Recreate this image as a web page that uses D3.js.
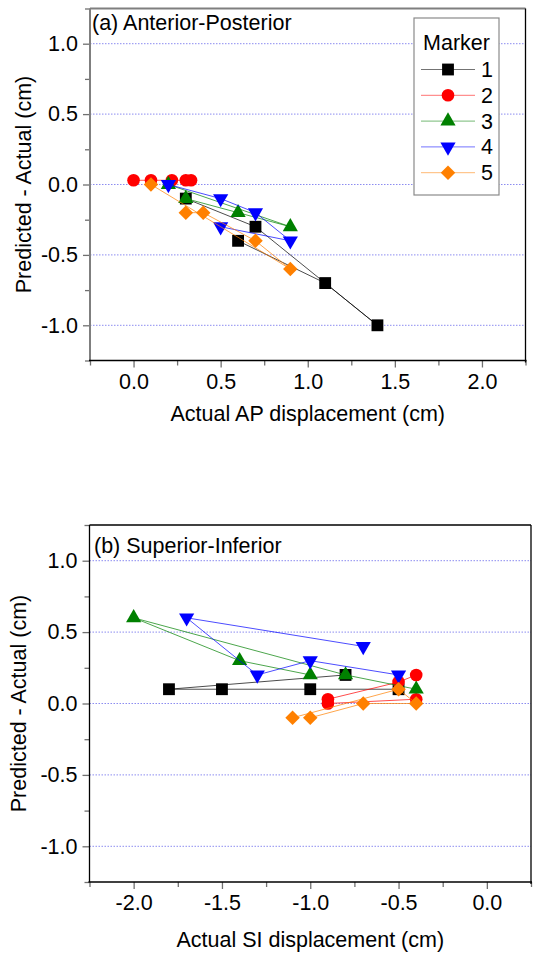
<!DOCTYPE html>
<html><head><meta charset="utf-8">
<script src="https://cdn.jsdelivr.net/npm/d3@7"></script>
<style>
body{margin:0;background:#fff;}
svg text{font-family:"Liberation Sans",Arial,sans-serif;}
</style></head>
<body><svg id="c" width="541" height="963"></svg>
<script>
// ---- data ----
const markerNames = ["1","2","3","4","5"];
const seriesColors = ["#000000","#ff0000","#008000","#0000ff","#ff8000"];
const yTicks = [-1.0,-0.5,0.0,0.5,1.0];
const yMinor = [-1.25,-0.75,-0.25,0.25,0.75,1.25];
const apTicks = [0.0,0.5,1.0,1.5,2.0];
const apMinor = [-0.25,0.25,0.75,1.25,1.75,2.25];
const siTicks = [-2.0,-1.5,-1.0,-0.5,0.0];
const siMinor = [-2.25,-1.75,-1.25,-0.75,-0.25,0.25];

// Panel (a) Anterior-Posterior: [actual AP, predicted - actual]
const ap1 = [[0.3,-0.1],[0.7,-0.3],[1.4,-1.0],[1.1,-0.7],[0.6,-0.4]];
const ap2 = [[0.0,0.03],[0.1,0.03],[0.22,0.03],[0.3,0.03],[0.33,0.03]];
const ap3 = [[0.3,-0.1],[0.6,-0.2],[0.9,-0.3],[0.2,0.0]];
const ap4 = [[0.2,0.0],[0.5,-0.1],[0.7,-0.2],[0.9,-0.4],[0.5,-0.3]];
const ap5 = [[0.1,0.0],[0.9,-0.6],[0.7,-0.4],[0.4,-0.2],[0.3,-0.2]];

// Panel (b) Superior-Inferior: [actual SI, predicted - actual]
const si1 = [[-0.8,0.2],[-1.8,0.1],[-1.5,0.1],[-1.0,0.1],[-0.5,0.1]];
const si2 = [[-0.9,0.0],[-0.4,0.03],[-0.4,0.2],[-0.5,0.15],[-0.9,0.03]];
const si3 = [[-1.0,0.2],[-1.4,0.3],[-2.0,0.6],[-0.8,0.2],[-0.4,0.1]];
const si4 = [[-0.7,0.4],[-1.7,0.6],[-1.3,0.2],[-1.0,0.3],[-0.5,0.2]];
const si5 = [[-1.1,-0.1],[-0.5,0.1],[-0.4,0.0],[-0.7,0.0],[-1.0,-0.1]];

// ---- drawing ----
const svg = d3.select("#c");
const FS = 21.5;
const fmt = d => d.toFixed(1);

const symbols = [
  {type:d3.symbolSquare, size:140, rot:0},
  {type:d3.symbolCircle, size:125, rot:0},
  {type:d3.symbolTriangle, size:100, rot:0},
  {type:d3.symbolTriangle, size:100, rot:180},
  {type:d3.symbolSquare, size:105, rot:45}
];

function panel(opt){
  const x = d3.scaleLinear().domain(opt.xDomain).range([opt.left, opt.right]);
  const y = d3.scaleLinear().domain([-1.25,1.25]).range([opt.bottom, opt.top]);
  const g = svg.append("g");

  g.selectAll("line.grid").data(yTicks).join("line")
    .attr("x1", opt.left).attr("x2", opt.right)
    .attr("y1", d=>y(d)).attr("y2", d=>y(d))
    .attr("stroke","#8c8cf0").attr("stroke-width",1).attr("stroke-dasharray","1.5,1.5");

  const styleAxis = sel => { sel.select(".domain").remove();
    sel.selectAll(".tick line").attr("stroke","#707070").attr("stroke-width",1.3);
    sel.selectAll(".tick text").attr("font-size",FS).attr("fill","#000")
      .attr("font-family","Liberation Sans, Arial, sans-serif"); };
  g.append("g").attr("transform",`translate(0,${opt.bottom})`)
    .call(d3.axisBottom(x).tickValues(opt.xTicks).tickSize(7).tickPadding(6).tickFormat(fmt)).call(styleAxis);
  g.append("g").attr("transform",`translate(0,${opt.bottom})`)
    .call(d3.axisBottom(x).tickValues(opt.xMinor).tickSize(5).tickFormat("")).call(styleAxis);
  g.append("g").attr("transform",`translate(${opt.left},0)`)
    .call(d3.axisLeft(y).tickValues(yTicks).tickSize(7).tickPadding(5).tickFormat(fmt)).call(styleAxis);
  g.append("g").attr("transform",`translate(${opt.left},0)`)
    .call(d3.axisLeft(y).tickValues(yMinor).tickSize(5).tickFormat("")).call(styleAxis);

  g.append("line").attr("x1",opt.left).attr("x2",opt.right).attr("y1",opt.top).attr("y2",opt.top)
    .attr("stroke",opt.frameTL).attr("stroke-width",opt.tlw);
  g.append("line").attr("x1",opt.left).attr("x2",opt.left).attr("y1",opt.top).attr("y2",opt.bottom)
    .attr("stroke",opt.frameTL).attr("stroke-width",opt.tlw);
  g.append("line").attr("x1",opt.right).attr("x2",opt.right).attr("y1",opt.top).attr("y2",opt.bottom+2)
    .attr("stroke","#000").attr("stroke-width",1.3);
  g.append("line").attr("x1",opt.left-1).attr("x2",opt.right+1).attr("y1",opt.bottom).attr("y2",opt.bottom)
    .attr("stroke","#000").attr("stroke-width",1.5);

  const line = d3.line().x(d=>x(d[0])).y(d=>y(d[1]));
  opt.series.forEach((s,i)=>{
    g.append("path").attr("d", line(s)).attr("fill","none")
      .attr("stroke", seriesColors[i]).attr("stroke-opacity",0.7).attr("stroke-width",1);
    const sym = d3.symbol().type(symbols[i].type).size(symbols[i].size);
    g.selectAll(null).data(s).join("path")
      .attr("d", sym)
      .attr("transform", d=>`translate(${x(d[0])},${y(d[1])}) rotate(${symbols[i].rot})`)
      .attr("fill", seriesColors[i]);
  });

  g.append("text").attr("x",opt.titleX).attr("y",opt.titleY).attr("font-size",FS).text(opt.title);
  g.append("text").attr("x",(opt.left+opt.right)/2).attr("y",opt.xLabelY)
    .attr("text-anchor","middle").attr("font-size",FS).text(opt.xLabel);
  g.append("text").attr("transform",`translate(${opt.yLabelX},${y(0)}) rotate(-90)`)
    .attr("text-anchor","middle").attr("font-size",FS).text("Predicted - Actual (cm)");
  return {x,y,g};
}

panel({xDomain:[-0.25,2.25], left:90, right:525.5, top:8.5, bottom:360.5,
  xTicks:apTicks, xMinor:apMinor, series:[ap1,ap2,ap3,ap4,ap5],
  frameTL:"#7f7f7f", tlw:2,
  title:"(a) Anterior-Posterior", titleX:92, titleY:30,
  xLabel:"Actual AP displacement (cm)", xLabelY:421, yLabelX:31});

panel({xDomain:[-2.25,0.25], left:89.5, right:531, top:525, bottom:882,
  xTicks:siTicks, xMinor:siMinor, series:[si1,si2,si3,si4,si5],
  frameTL:"#000", tlw:1.3,
  title:"(b) Superior-Inferior", titleX:94, titleY:553,
  xLabel:"Actual SI displacement (cm)", xLabelY:947, yLabelX:26});

const lg = svg.append("g");
const lx0 = 414, ly0 = 18, lw = 85, lh = 177;
lg.append("rect").attr("x",lx0).attr("y",ly0).attr("width",lw).attr("height",lh)
  .attr("fill","#fff").attr("stroke","#8a8a8a").attr("stroke-width",1.2);
lg.append("text").attr("x",lx0+lw/2).attr("y",50).attr("text-anchor","middle").attr("font-size",FS).text("Marker");
markerNames.forEach((m,i)=>{
  const cy = 69.5 + i*25.8;
  lg.append("line").attr("x1",421).attr("x2",475).attr("y1",cy).attr("y2",cy)
    .attr("stroke",seriesColors[i]).attr("stroke-opacity",0.55).attr("stroke-width",1);
  lg.append("path").attr("d", d3.symbol().type(symbols[i].type).size(symbols[i].size))
    .attr("transform",`translate(448,${cy}) rotate(${symbols[i].rot})`).attr("fill",seriesColors[i]);
  lg.append("text").attr("x",481).attr("y",cy+7.5).attr("font-size",FS).text(m);
});
</script></body></html>
